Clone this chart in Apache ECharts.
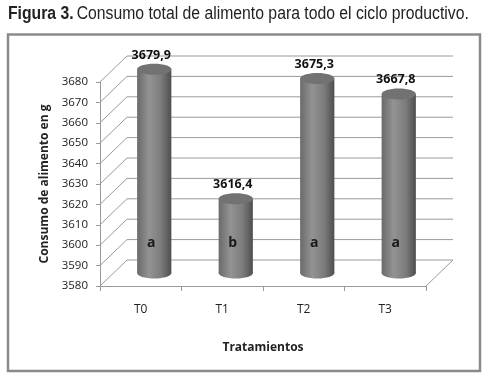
<!DOCTYPE html>
<html>
<head>
<meta charset="utf-8">
<script src="https://cdn.jsdelivr.net/npm/echarts@6/dist/echarts.min.js"></script>
<style>
  html, body { margin: 0; padding: 0; background: #fff; }
  #chart { width: 484px; height: 376px; }
</style>
</head>
<body>
<div id="chart"></div>
<script>
// datos
const categorias = ['T0', 'T1', 'T2', 'T3'];
const consumo = [3679.9, 3616.4, 3675.3, 3667.8];
const letras = ['a', 'b', 'a', 'a'];
const yTicks = [3580, 3590, 3600, 3610, 3620, 3630, 3640, 3650, 3660, 3670, 3680];

const chart = echarts.init(document.getElementById('chart'));

// profundidad del efecto 3D (en px)
const DX = 27, DY = -26;
const lineColor = '#9a9a9a';
const fontMain = '"Open Sans", "DejaVu Sans", sans-serif';
const fontTitle = '"Liberation Sans", Arial, sans-serif';

function paredes(params, api) {
    const cs = params.coordSys;
    const v = api.value(0);
    const y = api.coord([0, v])[1];
    const left = cs.x, right = cs.x + cs.width;
    const children = [
        { type: 'line', shape: { x1: left, y1: y, x2: left + DX, y2: y + DY },
          style: { stroke: lineColor, lineWidth: 1 } },
        { type: 'line', shape: { x1: left + DX, y1: y + DY, x2: right + DX, y2: y + DY },
          style: { stroke: lineColor, lineWidth: 1 } }
    ];
    if (params.dataIndex === 0) {
        children.push({ type: 'line', shape: { x1: right, y1: y, x2: right + DX, y2: y + DY },
            style: { stroke: lineColor, lineWidth: 1 } });
    }
    return { type: 'group', children: children };
}

function cilindros(params, api) {
    const i = api.value(0), v = api.value(1);
    const top = api.coord([i, v]);
    const base = api.coord([i, yTicks[0]]);
    const w = api.size([1, 0])[0] * 0.42;
    const cx = top[0] + DX / 2;
    const yTop = top[1] + DY / 2;
    const yBot = base[1] + DY / 2;
    const rx = w / 2, ry = 5.5;
    const grad = new echarts.graphic.LinearGradient(0, 0, 1, 0, [
        { offset: 0, color: '#6a6a6a' },
        { offset: 0.35, color: '#939393' },
        { offset: 0.7, color: '#7c7c7c' },
        { offset: 1, color: '#4e4e4e' }
    ]);
    const etiqueta = v.toFixed(1).replace('.', ',');
    return {
        type: 'group',
        children: [
            { type: 'ellipse', shape: { cx: cx, cy: yBot, rx: rx, ry: ry }, style: { fill: grad } },
            { type: 'rect', shape: { x: cx - rx, y: yTop, width: w, height: yBot - yTop }, style: { fill: grad } },
            { type: 'ellipse', shape: { cx: cx, cy: yTop, rx: rx, ry: ry }, style: { fill: '#727272' } },
            { type: 'text', x: cx - 3, y: yTop - ry - 2,
              style: { text: etiqueta, fill: '#111', font: 'bold 12.5px ' + fontMain,
                       align: 'center', verticalAlign: 'bottom' } },
            { type: 'text', x: cx - 3, y: yBot - 30,
              style: { text: letras[i], fill: '#1a1a1a', font: 'bold 14px ' + fontMain,
                       align: 'center', verticalAlign: 'middle' } }
        ]
    };
}

const option = {
    animation: false,
    backgroundColor: '#fff',
    graphic: [
        {
            type: 'rect',
            shape: { x: 8, y: 34.5, width: 472, height: 336.5 },
            style: { fill: 'none', stroke: '#8a8a8a', lineWidth: 2.5 },
            z: 0
        },
        {
            // titulo con letra estrecha (escala horizontal)
            type: 'text',
            x: 8,
            y: 14,
            scaleX: 0.9,
            style: {
                text: '{b|Figura 3.} {n|Consumo total de alimento para todo el ciclo productivo.}',
                verticalAlign: 'middle',
                rich: {
                    b: { font: 'bold 17.5px ' + fontTitle, fill: '#222' },
                    n: { font: '17.5px ' + fontTitle, fill: '#222' }
                }
            }
        }
    ],
    grid: { left: 100, right: 58, top: 82, bottom: 90 },
    xAxis: {
        type: 'category',
        data: categorias,
        name: 'Tratamientos',
        nameLocation: 'middle',
        nameGap: 56,
        nameTextStyle: { fontFamily: fontMain, fontWeight: 'bold', fontSize: 12, color: '#222' },
        axisLine: { lineStyle: { color: lineColor } },
        axisTick: { show: true, interval: 0, length: 5, lineStyle: { color: lineColor } },
        axisLabel: { margin: 18, fontFamily: fontMain, fontSize: 12, color: '#222' }
    },
    yAxis: {
        type: 'value',
        min: 3580,
        max: 3680,
        interval: 10,
        name: 'Consumo de alimento en g',
        nameLocation: 'middle',
        nameRotate: 90,
        nameGap: 49,
        nameTextStyle: { fontFamily: fontMain, fontWeight: 'bold', fontSize: 12, color: '#222' },
        axisLine: { show: true, lineStyle: { color: lineColor } },
        axisTick: { show: true, length: 4, lineStyle: { color: lineColor } },
        splitLine: { show: false },
        axisLabel: {
            margin: 12, fontFamily: fontMain, fontSize: 11.5, color: '#222',
            formatter: function (v) { return String(v); }
        }
    },
    series: [
        {
            type: 'custom',
            name: 'paredes',
            z: 1,
            renderItem: paredes,
            data: yTicks.map(function (t) { return [t]; }),
            encode: { y: 0 },
            silent: true
        },
        {
            type: 'custom',
            name: 'consumo',
            z: 3,
            renderItem: cilindros,
            data: consumo.map(function (v, i) { return [i, v]; }),
            encode: { x: 0, y: 1 }
        }
    ]
};
chart.setOption(option);
</script>
</body>
</html>
